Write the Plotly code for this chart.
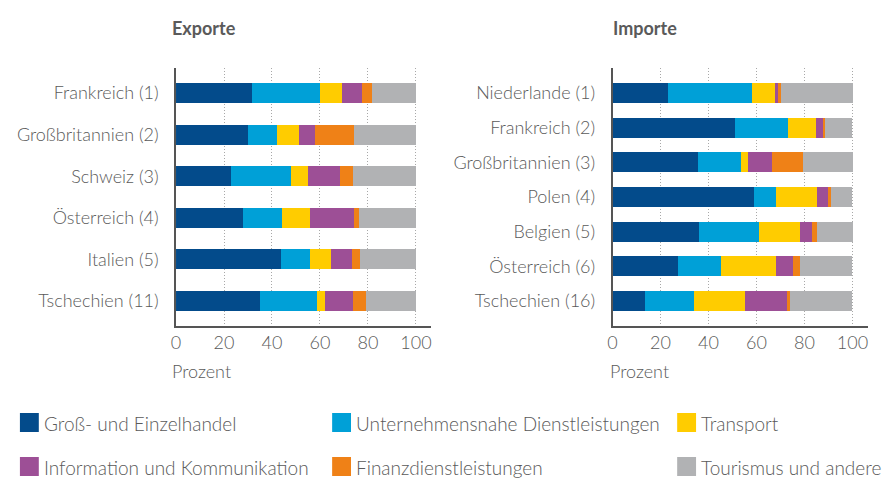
import plotly.graph_objects as go

W, H = 882, 478

series_names = [
    "Groß- und Einzelhandel",
    "Unternehmensnahe Dienstleistungen",
    "Transport",
    "Information und Kommunikation",
    "Finanzdienstleistungen",
    "Tourismus und andere",
]
colors = ["#034b8b", "#00a0d7", "#ffcc00", "#9d4f96", "#ef8117", "#b1b2b4"]

export_countries = ["Frankreich (1)", "Großbritannien (2)", "Schweiz (3)",
                    "Österreich (4)", "Italien (5)", "Tschechien (11)"]
export_handel = [31.8, 30.2, 23.1, 28.1, 43.8, 35.1]
export_unternehmen = [28.1, 12.0, 24.8, 16.1, 12.0, 23.6]
export_transport = [9.1, 9.1, 7.0, 11.6, 8.7, 3.3]
export_ikt = [8.7, 6.6, 13.6, 18.2, 8.7, 11.6]
export_finanz = [4.1, 16.1, 5.4, 2.1, 3.3, 5.4]
export_tourismus = [18.2, 26.0, 26.1, 23.9, 23.5, 21.0]

import_countries = ["Niederlande (1)", "Frankreich (2)", "Großbritannien (3)",
                    "Polen (4)", "Belgien (5)", "Österreich (6)", "Tschechien (16)"]
import_handel = [22.8, 50.9, 35.6, 58.8, 36.0, 26.9, 13.2]
import_unternehmen = [35.2, 21.9, 17.8, 9.1, 24.8, 18.2, 20.7]
import_transport = [9.9, 12.0, 2.9, 17.0, 17.0, 22.8, 21.1]
import_ikt = [0.8, 2.9, 9.9, 5.0, 5.0, 7.0, 17.8]
import_finanz = [1.2, 0.8, 12.8, 0.8, 2.1, 2.9, 0.8]
import_tourismus = [30.1, 11.2, 21.0, 9.0, 15.1, 21.9, 26.1]

x_ticks = [0, 20, 40, 60, 80, 100]

export_series = [export_handel, export_unternehmen, export_transport,
                 export_ikt, export_finanz, export_tourismus]
import_series = [import_handel, import_unternehmen, import_transport,
                 import_ikt, import_finanz, import_tourismus]

FONT = "Lato"
TXT = "#5a5a5a"

fig = go.Figure()
for name, col, vals in zip(series_names, colors, export_series):
    fig.add_trace(go.Bar(y=export_countries, x=vals, orientation="h", name=name,
                         marker=dict(color=col, line=dict(width=0)), width=0.48,
                         xaxis="x", yaxis="y", showlegend=False))
for name, col, vals in zip(series_names, colors, import_series):
    fig.add_trace(go.Bar(y=import_countries, x=vals, orientation="h", name=name,
                         marker=dict(color=col, line=dict(width=0)), width=0.577,
                         xaxis="x2", yaxis="y2", showlegend=False))

ydom = [1 - 326 / H, 1 - 68 / H]
common_x = dict(range=[0, 106.4], tickvals=x_ticks, showgrid=True, griddash="1px,2px",
                gridcolor="#a8a8a8", gridwidth=1, showline=True, linecolor="#555555",
                linewidth=1.5, zeroline=False, ticks="", ticklabelstandoff=0,
                tickfont=dict(family=FONT, size=18, color=TXT, weight=300), fixedrange=True)
common_y = dict(showline=True, linecolor="#555555", linewidth=1.5, ticks="",
                showgrid=False, zeroline=False, ticklabelstandoff=12,
                tickfont=dict(family=FONT, size=18, color=TXT, weight=300), fixedrange=True)

fig.update_layout(
    width=W, height=H, margin=dict(l=0, r=0, t=0, b=0),
    paper_bgcolor="white", plot_bgcolor="white",
    barmode="stack", bargap=0,
    font=dict(family=FONT, color=TXT),
    xaxis=dict(domain=[172 / W, 428.7 / W], anchor="y", **common_x),
    yaxis=dict(domain=ydom, anchor="x", range=[5.6, -0.6], **common_y),
    xaxis2=dict(domain=[611 / W, 867.7 / W], anchor="y2", **common_x),
    yaxis2=dict(domain=ydom, anchor="x2", range=[6.72, -0.72], **common_y),
)

annots = []
annots.append(dict(text="<b>Exporte</b>", x=166 / W, y=1 - 28 / H, xref="paper", yref="paper",
                   xanchor="left", yanchor="middle", showarrow=False,
                   font=dict(family=FONT, size=18, color=TXT)))
annots.append(dict(text="<b>Importe</b>", x=609 / W, y=1 - 28 / H, xref="paper", yref="paper",
                   xanchor="left", yanchor="middle", showarrow=False,
                   font=dict(family=FONT, size=18, color=TXT)))
for xpx in (166, 606):
    annots.append(dict(text="Prozent", x=xpx / W, y=1 - 371 / H, xref="paper", yref="paper",
                       xanchor="left", yanchor="middle", showarrow=False,
                       font=dict(family=FONT, size=18, color=TXT, weight=300)))

# legend (2 rows x 3 columns)
col_x = [15, 329, 676]
row_y = [413, 457]
shapes = []
for i, (name, col) in enumerate(zip(series_names, colors)):
    r, c = divmod(i, 3)
    x0 = col_x[c]
    y0 = row_y[r]
    shapes.append(dict(type="rect", xref="paper", yref="paper",
                       x0=x0 / W, x1=(x0 + 19) / W, y0=1 - y0 / H, y1=1 - (y0 + 19) / H,
                       fillcolor=col, line=dict(width=0)))
    annots.append(dict(text=name, x=(x0 + 22) / W, y=1 - (y0 + 10) / H,
                       xref="paper", yref="paper", xanchor="left", yanchor="middle",
                       showarrow=False, font=dict(family=FONT, size=19, color=TXT, weight=300)))

fig.update_layout(annotations=annots, shapes=shapes)
fig.write_html("out.html", config={"displayModeBar": False},
               post_script="document.body.style.margin='0';document.body.style.overflow='hidden';")
